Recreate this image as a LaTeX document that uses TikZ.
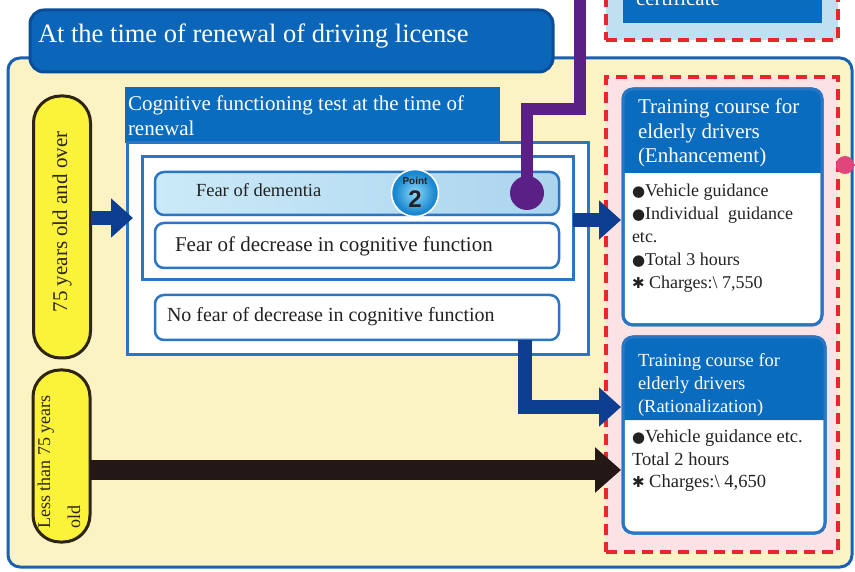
\documentclass[tikz,border=0pt]{standalone}
\usepackage{fontspec}
\setmainfont{Liberation Serif}
\newfontfamily\dv{DejaVu Sans}
\newfontfamily\lsans{Liberation Sans}
\usetikzlibrary{arrows.meta}
\definecolor{hblue}{HTML}{0A6CBF}
\definecolor{tblue}{HTML}{0B66BA}
\definecolor{tborder}{HTML}{0A4E98}
\definecolor{bblue}{HTML}{2A76C4}
\definecolor{ybord}{HTML}{1A62B0}
\definecolor{dblue}{HTML}{0E3E92}
\definecolor{ybg}{HTML}{FCF3C5}
\definecolor{pinkbg}{HTML}{FBE3E5}
\definecolor{certbg}{HTML}{BEE0F1}
\definecolor{dred}{HTML}{E8262C}
\definecolor{purp}{HTML}{5B2086}
\definecolor{pinkdot}{HTML}{E0457B}
\definecolor{pillfill}{HTML}{FBF23A}
\definecolor{pillline}{HTML}{2E2412}
\definecolor{txt}{HTML}{222222}
\definecolor{blk}{HTML}{231815}
\definecolor{lbone}{HTML}{CBEAF8}
\definecolor{lbtwo}{HTML}{ABD4EE}
\definecolor{ptin}{HTML}{8FD8F8}
\definecolor{ptout}{HTML}{1A88D0}
\newcommand{\fs}[2]{\fontsize{#1}{#2}\selectfont}
\newcommand{\bul}{{\dv\fontsize{15}{15}\selectfont ●}}
\newcommand{\myast}{{\dv\fontsize{15}{15}\selectfont ✱}}
\begin{document}
\begin{tikzpicture}[x=1pt,y=-1pt,
  every node/.style={inner sep=0pt, outer sep=0pt},
  box/.style={draw=bblue, line width=3pt, fill=white},
  rbox/.style={box, rounded corners=9pt, line width=2.5pt},
  lbl/.style={anchor=west, text=txt, align=left},
  wlbl/.style={anchor=west, text=white, align=left},
  barrow/.style={draw=dblue, line width=14pt, -{Triangle[width=38pt,length=22pt]}},
  dashbox/.style={draw=dred, line width=3.5pt, dash pattern=on 11pt off 7pt},
  pill/.style={draw=pillline, line width=3pt, fill=pillfill, rounded corners=27pt},
]
\useasboundingbox (0,0) rectangle (855,572);
\fill[white] (0,0) rectangle (855,572);

% main yellow container
\node[draw=ybord, line width=3pt, fill=ybg, rounded corners=12pt, minimum width=844pt, minimum height=509pt] (yb) at (430,312.5) {};

% certificate box (top right, cut)
\node[dashbox, fill=certbg, minimum width=232pt, minimum height=60pt] (cert) at (722,10) {};
\node[fill=hblue, minimum width=199pt, minimum height=40pt] (certin) at (722.5,3) {};
\node[wlbl, anchor=base west, font=\fs{21}{24}] (certt) at (636,6) {certificate};

% title tab
\node[fill=tblue, draw=tborder, line width=3pt, rounded corners=14pt, minimum width=523pt, minimum height=62pt] (title) at (291.5,41) {};
\node[wlbl, font=\fs{26.5}{30}] (titlet) at (38,36) {At the time of renewal of driving license};

% pills
\node[pill, minimum width=57pt, minimum height=262pt] (p75) at (62,227) {};
\node[rotate=90, text=pillline, font=\fs{21}{24}] (p75t) at (62,222) {75 years old and over};
\node[pill, minimum width=57pt, minimum height=172pt] (p2) at (61.5,456) {};
\node[rotate=90, text=pillline, font=\fs{18}{30}, align=left] (p2t) at (59,462) {Less than 75 years\\old};

% cognitive test
\node[fill=hblue, minimum width=375pt, minimum height=56pt] (coghdr) at (312.5,115) {};
\node[wlbl, font=\fs{21}{25}] (cogt) at (128,115.5) {Cognitive functioning test at the time of\\renewal};
\node[box, minimum width=461pt, minimum height=212pt] (cogout) at (357.5,249) {};
\node[box, minimum width=431pt, minimum height=123pt] (cogin) at (357.5,218.5) {};
\node[rbox, left color=lbone, right color=lbtwo, minimum width=404pt, minimum height=43pt] (dem) at (357,193.5) {};
\node[lbl, font=\fs{18.5}{22}] (demt) at (196,190) {Fear of dementia};
\node[rbox, minimum width=404pt, minimum height=45pt] (dec) at (357,245.5) {};
\node[lbl, font=\fs{21}{24}] (dect) at (175,246) {Fear of decrease in cognitive function};
\node[rbox, minimum width=404pt, minimum height=45pt] (nof) at (357,317.5) {};
\node[lbl, font=\fs{20}{24}] (noft) at (167,317) {No fear of decrease in cognitive function};

% Point 2 badge
\node[circle, fill=ptout, draw=white, line width=1.5pt, minimum size=47pt] (pt) at (415,193) {};
\shade[inner color=ptin, outer color=ptout] (pt.center) circle (20pt);
\node[text=txt, font=\lsans\bfseries\fs{10}{11}] (ptw) at (415,181) {Point};
\node[text=txt, font=\lsans\bfseries\fs{24}{26}] (ptn) at (415,199) {2};

% purple line
\node[circle, fill=purp, minimum size=34pt] (pdot) at (527,193) {};
\coordinate (ptop) at (580,-10);
\coordinate (pk1) at (580,109);
\coordinate (pk2) at (527,109);
\draw[purp, line width=12pt] (ptop) -- (pk1) -- (pk2) -- (pdot.center);

% pink container
\node[dashbox, fill=pinkbg, minimum width=232pt, minimum height=475pt] (pinkc) at (722,314.5) {};

% enhancement course
\node[box, rounded corners=10pt, minimum width=199pt, minimum height=236pt] (enh) at (722.5,207) {};
\coordinate (enhh) at (0,173);
\fill[hblue] (enh.west |- enhh) {[rounded corners=10pt] -- (enh.north west) -- (enh.north east)} -- (enh.east |- enhh) -- cycle;
\draw[bblue, line width=3pt, rounded corners=10pt] (enh.north west) rectangle (enh.south east);
\node[wlbl, font=\fs{21}{24.5}] (enht) at (638,133) {Training course for\\elderly drivers\\(Enhancement)};
\node[lbl, font=\fs{18}{23}] (enhb) at (632,238.5) {\bul Vehicle guidance\\\bul Individual\ \ guidance\\etc.\\\bul Total 3 hours\\\myast\ Charges:\textbackslash\ 7,550};

% rationalization course
\node[box, rounded corners=10pt, minimum width=202pt, minimum height=196pt] (rat) at (724,435) {};
\coordinate (rath) at (0,420);
\fill[hblue] (rat.west |- rath) {[rounded corners=10pt] -- (rat.north west) -- (rat.north east)} -- (rat.east |- rath) -- cycle;
\draw[bblue, line width=3pt, rounded corners=10pt] (rat.north west) rectangle (rat.south east);
\node[wlbl, font=\fs{18.5}{23}] (ratt) at (638,385) {Training course for\\elderly drivers\\(Rationalization)};
\node[lbl, font=\fs{18.5}{22.5}] (ratb) at (632,461) {\bul Vehicle guidance etc.\\Total 2 hours\\\myast\ Charges:\textbackslash\ 4,650};

% pink dot
\node[circle, fill=pinkdot, minimum size=18pt] (pkd) at (845,165) {};
\coordinate (pke) at (860,165);
\draw[pinkdot, line width=2pt] (pkd) -- (pke);

% arrows
\coordinate (aone) at (0,218);
\draw[barrow] (p75.east |- aone) -- ([xshift=6pt]cogout.west |- aone);
\coordinate (atwo) at (0,220);
\draw[barrow] (cogin.east |- atwo) -- ([xshift=-2pt]enh.west |- atwo);
\coordinate (athree) at (0,407);
\draw[barrow] ([xshift=-34pt]nof.south east) |- ([xshift=-2pt]rat.west |- athree);
\coordinate (afour) at (0,470);
\draw[draw=blk, line width=20pt, -{Triangle[width=44pt,length=26pt]}] (p2.east |- afour) -- ([xshift=-2pt]rat.west |- afour);
\end{tikzpicture}
\end{document}
